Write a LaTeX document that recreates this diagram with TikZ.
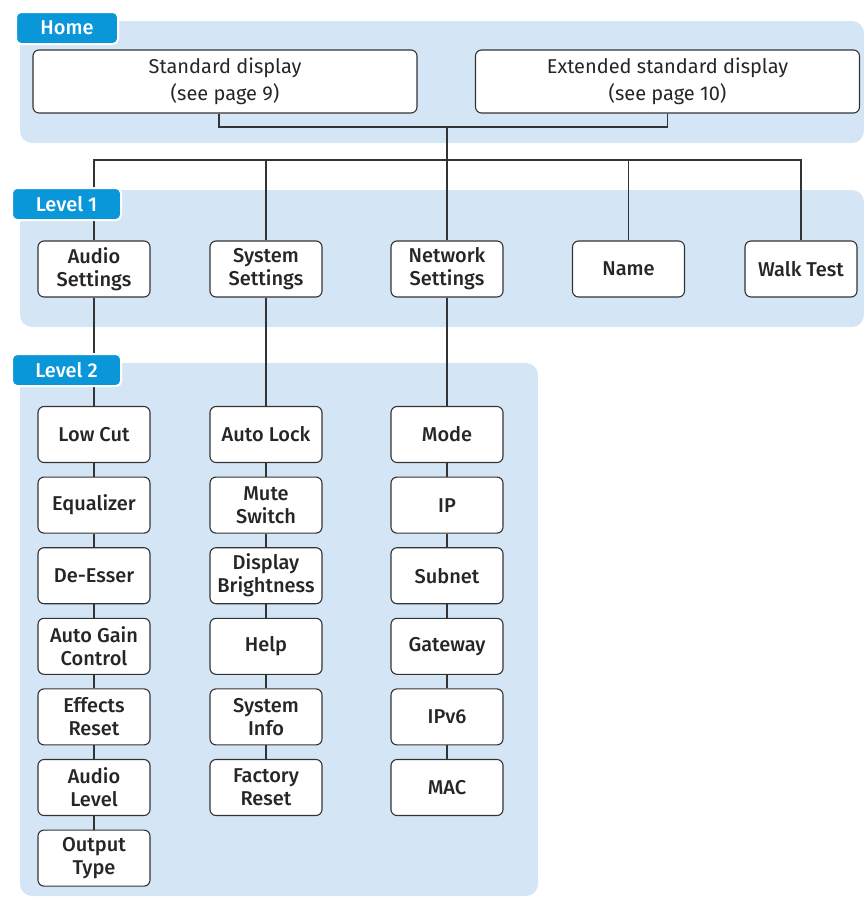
\documentclass[tikz,border=0pt]{standalone}
\usepackage{fontspec}
\setmainfont{Fira Sans}[BoldFont={Fira Sans Medium}]
\usetikzlibrary{positioning}
\definecolor{panelblue}{HTML}{D4E6F5}
\definecolor{tabblue}{HTML}{0A97D9}
\definecolor{boxline}{HTML}{333333}

\begin{document}
\begin{tikzpicture}[x=1pt, y=-1pt, node distance=13.5pt,
    main/.style = {draw=boxline, line width=1.1pt, rounded corners=6pt, fill=white, align=center,
        minimum width=112pt, minimum height=56pt, inner sep=0pt,
        font=\fontsize{20}{23}\selectfont\bfseries, text=black!85},
    wide/.style = {main, minimum width=384pt, minimum height=63pt, font=\fontsize{20}{27}\selectfont},
    panel/.style = {fill=panelblue, rounded corners=12pt},
    tab/.style = {fill=tabblue, draw=white, line width=2pt, rounded corners=5pt, text=white,
        minimum height=32pt, inner sep=0pt, anchor=north west, font=\fontsize{20}{23}\selectfont\bfseries},
    link/.style = {draw=boxline, line width=1.2pt}]
    \useasboundingbox (0,0) rectangle (864,897);

    % background panels
    \fill[panel] (20,21) rectangle (864,143);
    \fill[panel] (20,190) rectangle (864,327);
    \fill[panel] (20,363) rectangle (538,896);

    % home
    \node[wide] (std) at (225,81.5) {Standard display\\(see page 9)};
    \node[wide] (ext) at (667.5,81.5) {Extended standard display\\(see page 10)};
    \coordinate (hub) at (447,127);
    \coordinate (bus) at (447,160);

    % level 1
    \node[main] (audio) at (94,269) {Audio\\Settings};
    \node[main] (system) at (266,269) {System\\Settings};
    \node[main] (network) at (447,269) {Network\\Settings};
    \node[main] (name) at (628.5,269) {Name};
    \node[main] (walk) at (801,269) {Walk Test};

    % level 2
    \node[main] (lowcut) at (94,434.5) {Low Cut};
    \node[main] (eq) [below=of lowcut] {Equalizer};
    \node[main] (deesser) [below=of eq] {De-Esser};
    \node[main] (agc) [below=of deesser] {Auto Gain\\Control};
    \node[main] (fxreset) [below=of agc] {Effects\\Reset};
    \node[main] (alevel) [below=of fxreset] {Audio\\Level};
    \node[main] (otype) [below=of alevel] {Output\\Type};

    \node[main] (autolock) at (266,434.5) {Auto Lock};
    \node[main] (mute) [below=of autolock] {Mute\\Switch};
    \node[main] (bright) [below=of mute] {Display\\Brightness};
    \node[main] (help) [below=of bright] {Help};
    \node[main] (sysinfo) [below=of help] {System\\Info};
    \node[main] (factory) [below=of sysinfo] {Factory\\Reset};

    \node[main] (mode) at (447,434.5) {Mode};
    \node[main] (ip) [below=of mode] {IP};
    \node[main] (subnet) [below=of ip] {Subnet};
    \node[main] (gateway) [below=of subnet] {Gateway};
    \node[main] (ipsix) [below=of gateway] {IPv6};
    \node[main] (mac) [below=of ipsix] {MAC};

    % connectors
    \path[link] ([xshift=-6pt]std.south) |- (hub) -| (ext.south);
    \path[link] (hub) -- (bus);
    \foreach \n in {audio, system, name, walk}
        \path[link] (bus) -| (\n.north);
    \path[link] (bus) -- (network.north);
    \foreach \a/\b in {audio/lowcut, lowcut/eq, eq/deesser, deesser/agc, agc/fxreset, fxreset/alevel, alevel/otype,
        system/autolock, autolock/mute, mute/bright, bright/help, help/sysinfo, sysinfo/factory,
        network/mode, mode/ip, ip/subnet, subnet/gateway, gateway/ipsix, ipsix/mac}
        \path[link] (\a) -- (\b);

    % level tabs
    \node[tab, minimum width=102pt] (hometab) at (15,11) {Home};
    \node[tab, minimum width=109pt] (levelone) at (11,187) {Level 1};
    \node[tab, minimum width=109pt] (leveltwo) at (11,353) {Level 2};
\end{tikzpicture}
\end{document}
